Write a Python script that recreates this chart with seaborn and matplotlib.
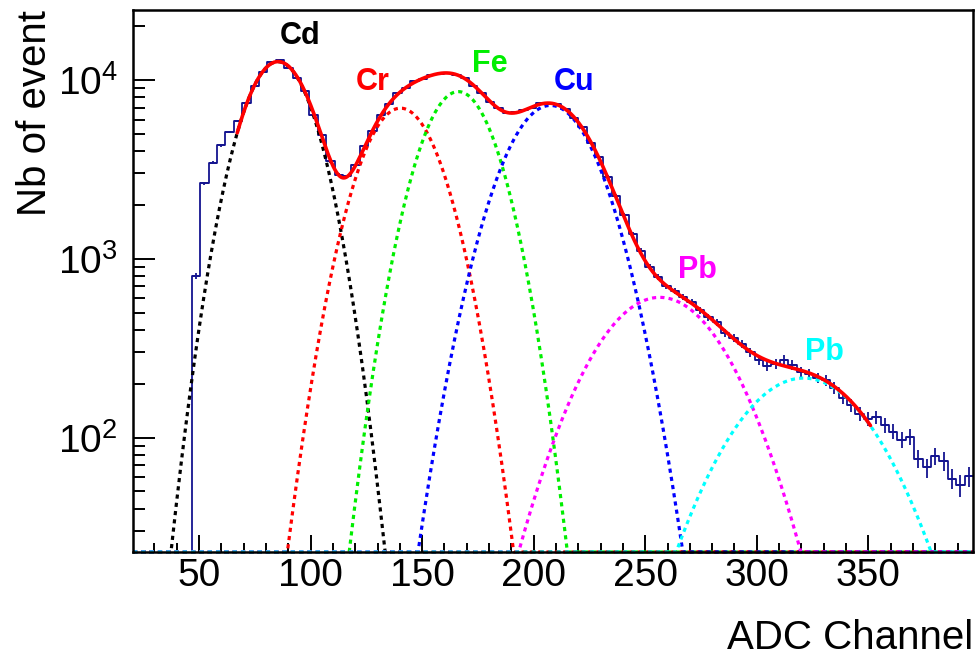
import numpy as np
import pandas as pd
import matplotlib
matplotlib.use("Agg")
import matplotlib.pyplot as plt
from matplotlib.ticker import LogLocator, MultipleLocator, NullFormatter, LogFormatterSciNotation
import seaborn as sns

# ---- ADC spectrum (100 equal bins over the channel range) ----
BIN_RANGE = (20.4, 396.9)
N_BINS = 100
counts = [
    0, 0, 0, 0, 0, 0, 0,
    800, 2650, 3450, 4300, 5100, 5900, 7400, 9300, 11100, 12600,
    12900, 11700, 10300, 8700, 6400, 4900, 3500, 2950, 2900, 3350,
    4250, 5150, 6400, 7300, 8400, 9000, 9800, 10100, 10650, 10800,
    11000, 10600, 10250, 9300, 8500, 7500, 6950, 6500, 6600, 6800,
    7000, 7400, 7350, 7300, 6900, 6150, 5450, 4450, 3700, 2880,
    2250, 1750, 1380, 1110, 900, 790, 700, 660, 612, 575,
    515, 472, 440, 385, 360, 335, 300, 272, 250, 258,
    272, 255, 232, 226, 216, 209, 190, 166, 152, 136,
    127, 130, 117, 108, 97, 101, 76, 68, 79, 74,
    59, 54, 61,
]

# ---- fitted gaussian lines ----
peak_names = ["Cd", "Cr", "Fe", "Cu", "Pb", "Pb"]
peak_amp = [12650, 6950, 8600, 7200, 608, 215]
peak_mean = [85.4, 140.3, 166.2, 207.5, 256.5, 321.0]
peak_sigma = [13.5, 15.0, 14.2, 17.5, 24.7, 27.0]
fit_range = (67.0, 351.0)

peak_colors = ["#000000", "#ff0000", "#00ee00", "#0000ff", "#ff00ff", "#00ffff"]
# label anchor (channel, counts) for each line name
label_pos = [(95.3, 17600), (128.0, 9680), (180.4, 12280),
             (218.1, 9680), (273.2, 869), (330.2, 301)]

NAVY = "#141490"
Y_MIN, Y_MAX = 22.9, 24600

sns.set_style("ticks")
plt.rcParams["font.family"] = ["Liberation Sans", "DejaVu Sans"]
plt.rcParams["mathtext.fontset"] = "custom"
plt.rcParams["mathtext.rm"] = "Liberation Sans"
plt.rcParams["mathtext.it"] = "Liberation Sans:italic"
plt.rcParams["mathtext.bf"] = "Liberation Sans:bold"
plt.rcParams["text.color"] = "black"
plt.rcParams["axes.labelcolor"] = "black"
plt.rcParams["xtick.color"] = "black"
plt.rcParams["ytick.color"] = "black"

fig = plt.figure(figsize=(9.75, 6.59), dpi=100)
fig.patch.set_facecolor("white")
ax = fig.add_axes([133 / 975, 1 - 552 / 659, (973 - 133) / 975, (552 - 10) / 659])
ax.set_facecolor("white")
ax.set_yscale("log")

edges = np.linspace(BIN_RANGE[0], BIN_RANGE[1], N_BINS + 1)
centers = 0.5 * (edges[:-1] + edges[1:])
width = edges[1] - edges[0]
cnt = np.asarray(counts, dtype=float)
df = pd.DataFrame({"channel": centers, "events": cnt})

sns.histplot(data=df, x="channel", weights="events", binwidth=width,
             binrange=BIN_RANGE, element="step", fill=False, color=NAVY,
             linewidth=1.3, ax=ax)
mask = cnt > 0
ax.errorbar(centers[mask], cnt[mask], yerr=np.sqrt(cnt[mask]), xerr=width / 2,
            fmt="none", ecolor=NAVY, elinewidth=1.3, capsize=0)

# individual components, held at the axis floor where they fall below it
xg = np.linspace(BIN_RANGE[0], BIN_RANGE[1], 1500)
total = np.zeros_like(xg)
for a, m, s, c in zip(peak_amp, peak_mean, peak_sigma, peak_colors):
    g = a * np.exp(-0.5 * ((xg - m) / s) ** 2)
    total += g
    sns.lineplot(x=xg, y=np.maximum(g, Y_MIN), color=c, linewidth=2.3,
                 linestyle=(0, (1.3, 1.3)), estimator=None, sort=False,
                 ax=ax, clip_on=False)

in_fit = (xg >= fit_range[0]) & (xg <= fit_range[1])
sns.lineplot(x=xg[in_fit], y=total[in_fit], color="#ff0000", linewidth=2.6,
             estimator=None, sort=False, ax=ax)

for name, (px, py), c in zip(peak_names, label_pos, peak_colors):
    ax.text(px, py, name, color=c, fontsize=22, fontweight="bold",
            ha="center", va="center")

ax.set_xlim(*BIN_RANGE)
ax.set_ylim(Y_MIN, Y_MAX)

ax.xaxis.set_major_locator(MultipleLocator(50))
ax.xaxis.set_minor_locator(MultipleLocator(10))
ax.yaxis.set_major_locator(LogLocator(base=10))
ax.yaxis.set_major_formatter(LogFormatterSciNotation(base=10))
ax.yaxis.set_minor_locator(LogLocator(base=10, subs=np.arange(2, 10)))
ax.yaxis.set_minor_formatter(NullFormatter())

ax.tick_params(axis="x", which="major", direction="in", length=12.2, width=1.4,
               labelsize=28, pad=4, top=False, colors="black")
ax.tick_params(axis="x", which="minor", direction="in", length=6.5, width=1.4, top=False)
ax.tick_params(axis="y", which="major", direction="in", length=15.8, width=1.4,
               labelsize=28, pad=11, right=False, colors="black")
ax.tick_params(axis="y", which="minor", direction="in", length=8.6, width=1.4, right=False)

for sp in ax.spines.values():
    sp.set_visible(True)
    sp.set_linewidth(1.8)
    sp.set_color("black")

ax.set_xlabel("ADC Channel", fontsize=29, loc="right", labelpad=18, color="black")
ax.set_ylabel("Nb of event", fontsize=29, loc="top", labelpad=3, color="black")

fig.savefig("out.png", dpi=100, facecolor="white")
